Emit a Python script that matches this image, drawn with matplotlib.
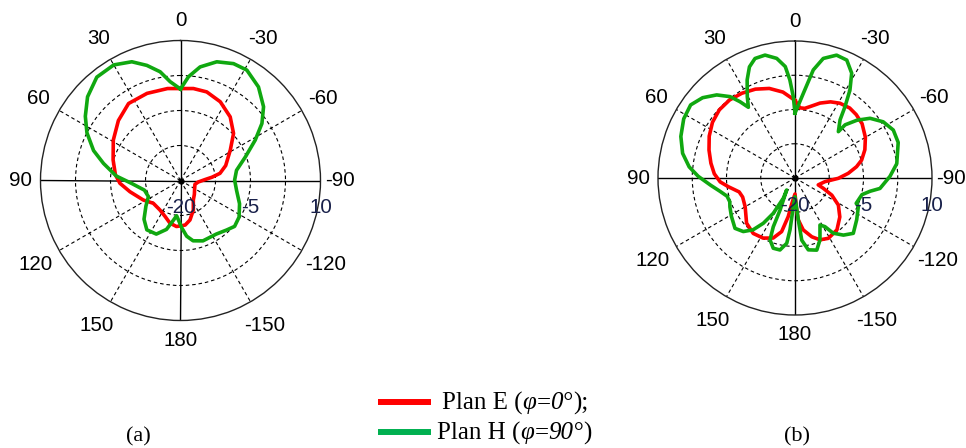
import numpy as np
import matplotlib
matplotlib.use("Agg")
import matplotlib.pyplot as plt
from matplotlib.lines import Line2D
from matplotlib.offsetbox import TextArea, HPacker, AnnotationBbox

# ---------------- data (angle in degrees, gain in dB) ----------------
# (a) E-plane
a_E_theta = [0, 8, 21, 34, 46, 59, 73, 85, 92.6, 102.5, 117.7, 130, 145, 157, 166, 175,
             186, 193.5, 203.5, 213.3, 225, 240, 255, 265, 272, 276, 280.3, 288.3,
             301.4, 311.6, 322, 333.2, 343.5, 352]
a_E_db = [-0.3, -0.1, 0.0, -0.1, -1.5, -3.2, -4.9, -6.0, -7.0, -8.9, -11.0, -12.4, -12.3,
          -11.6, -10.6, -10.1, -10.4, -11.3, -13.1, -15.0, -15.8, -16.5, -16.8, -16.2,
          -14.8, -13.2, -11.4, -9.8, -7.5, -4.8, -2.7, -1.1, -0.2, -0.1]
# (a) H-plane
a_H_theta = [0, 6, 10.6, 16.3, 22.3, 30, 39, 48, 56, 63, 71, 77.5, 86, 93.4, 105, 116.7,
             126.4, 136.7, 145.7, 155.7, 164, 169.7, 173.7, 176.8, 181.4, 186.3, 191.8,
             200.4, 213.6, 223, 229.7, 238, 248.5, 260, 270.5, 280.3, 290, 298.4, 305,
             311.6, 320.2, 329, 335.6, 343, 350.2, 355.6]
a_H_db = [-0.4, 1.3, 3.7, 5.7, 7.5, 8.6, 8.5, 6.8, 4.6, 2.5, -0.3, -3.1, -6.2, -9.5, -12.0,
          -12.3, -10.8, -8.6, -7.2, -7.4, -9.1, -11.3, -12.4, -11.6, -9.9, -8.0, -6.8,
          -6.2, -6.2, -5.5, -4.8, -5.2, -6.4, -7.8, -8.4, -7.8, -5.2, -1.8, 1.3, 3.8,
          6.1, 7.6, 7.5, 6.6, 4.7, 2.3]
# (b) E-plane
b_E_theta = [0, 8, 16, 24, 32, 40, 48, 56, 64, 72, 80, 87, 93, 97.5, 104, 110, 120, 133,
             143, 152, 160, 166, 170, 173, 180, 183, 184.5, 189, 196, 202, 209, 219, 229,
             238, 245, 250, 253.5, 263, 269.6, 275, 280.4, 285, 292, 300, 309, 316, 322,
             329, 335, 341.5, 348, 352, 356]
b_E_db = [-3.0, -1.0, 0.4, 1.3, 1.9, 2.3, 2.3, 1.8, 0.9, -0.2, -1.3, -2.3, -3.6, -5.3,
          -7.4, -7.8, -7.4, -5.5, -4.8, -5.1, -6.0, -7.9, -11.4, -14.4, -16.5, -13.0,
          -10.8, -8.5, -6.6, -5.4, -4.9, -5.4, -7.0, -8.8, -11.1, -13.4, -14.7, -13.4,
          -10.5, -8.3, -6.3, -4.9, -3.5, -2.2, -1.1, -0.7, -0.55, -0.9, -1.6, -2.7,
          -4.0, -4.6, -4.6]
# (b) H-plane
b_H_theta = [0, 1.2, 3, 5, 8.7, 13.7, 18.5, 22.3, 26, 30.4, 33.4, 35.8, 38.6, 43.3, 49, 55,
             62, 70, 77.6, 84, 89, 95, 100, 105, 110, 114, 121, 130, 136, 141, 145, 148.4,
             150, 145.3, 155, 156, 158, 162.8, 168.2, 172.8, 174.5, 176.6, 180, 184.5,
             186.2, 190.5, 196.8, 202, 208, 211.6, 214.7, 220.3, 226.5, 236, 246, 247.5,
             256, 260, 263, 271, 278, 289, 296, 302.5, 308.5, 313, 316.7, 316.9, 322.2,
             325, 328, 331.6, 336.3, 341.3, 346.7, 350.4, 354.4]
b_H_db = [-5.8, -2.2, 1.5, 4.5, 6.5, 7.7, 7.6, 6.3, 3.9, 0.65, -1.45, 0.6, 2.8, 5.0, 6.8,
          7.9, 7.6, 6.6, 5.2, 3.3, 1.2, -1.5, -3.3, -4.6, -4.8, -4.4, -3.75, -2.85, -3.7,
          -5.4, -7.9, -10.9, -14.9, -16.8, -12.3, -8.3, -5.4, -3.9, -3.9, -5.6, -8.6,
          -13.7, -15.9, -10.8, -6.3, -4.0, -3.5, -5.4, -8.35, -7.5, -5.3, -3.6, -2.4,
          -3.7, -4.8, -5.5, -4.9, -3.3, -1.25, 0.8, 2.5, 3.9, 3.95, 2.9, 1.0, -1.45,
          -4.0, -6.1, -3.9, -0.9, 2.7, 6.1, 8.2, 8.4, 6.9, 4.0, -1.4]

angle_ticks = [0, 30, 60, 90, 120, 150, 180, 210, 240, 270, 300, 330]
angle_labels = ['0', '30', '60', '90', '120', '150', '180', '-150', '-120', '-90', '-60', '-30']
r_min, r_max = -20, 10
ring_values = [-12.5, -5, 2.5]
radial_label_values = [-20, -5, 10]
radial_labels = ['-20', '-5', '10']
# legend texts: (piece, italic?)
legend_E = [('Plan E (', False), ('φ', True), ('=', False), ('0°', True), (');', False)]
legend_H = [('Plan H (', False), ('φ', True), ('=', False), ('90°', True), (')', False)]

RED = '#ff0000'
GREEN_PLOT = '#10a810'
GREEN_LEG = '#00b050'
TICK_FONT = 'Liberation Sans'
SERIF = 'Liberation Serif'
TICK_SIZE = 14.8

W, H = 966, 448
fig = plt.figure(figsize=(W / 100, H / 100), dpi=100)


def closed(theta, db):
    t = list(theta) + [theta[0] + 360]
    d = list(db) + [db[0]]
    return np.radians(t), np.array(d)


def label_radius(t):
    th = np.radians(t)
    f = 1.14
    if t % 90 != 0:
        f += 0.032
        if np.cos(th) < 0:
            f += 0.026
    return r_min + (r_max - r_min) * f


def make_polar(cx, cy, R, curves):
    ax = fig.add_axes([(cx - R) / W, (H - cy - R) / H, 2 * R / W, 2 * R / H],
                      projection='polar')
    ax.set_theta_zero_location('N')
    ax.set_theta_direction(1)
    ax.set_ylim(r_min, r_max)
    ax.set_yticks(ring_values)
    ax.set_yticklabels([])
    ax.set_xticks(np.radians([t for t in angle_ticks if t % 90 != 0]))
    ax.set_xticklabels([])
    ax.tick_params(length=0)
    ax.grid(True, color='black', linestyle=(0, (3.2, 2.6)), linewidth=0.8)
    ax.spines['polar'].set_linewidth(1.0)
    ax.spines['polar'].set_color('#222222')
    for t in (0, 90, 180, 270):
        ax.plot([np.radians(t)] * 2, [r_min, r_max], color='black', lw=1.0, zorder=2)
    ax.plot([0], [r_min], 'o', color='black', ms=3.5, zorder=3)
    for th, db, c in curves:
        tt, dd = closed(th, db)
        ax.plot(tt, dd, color=c, lw=2.6, zorder=4, solid_joinstyle='round')
    for t, lab in zip(angle_ticks, angle_labels):
        ax.text(np.radians(t), label_radius(t), lab, ha='center', va='center',
                fontsize=TICK_SIZE, family=TICK_FONT, clip_on=False)
    for v, lab in zip(radial_label_values, radial_labels):
        ax.annotate(lab, xy=(np.radians(270), v), xytext=(0, -19.5),
                    textcoords='offset points', ha='center', va='center',
                    fontsize=TICK_SIZE, family=TICK_FONT, color='#18204a',
                    annotation_clip=False, zorder=5)
    return ax


make_polar(180.5, 180.5, 140, [(a_E_theta, a_E_db, RED), (a_H_theta, a_H_db, GREEN_PLOT)])
make_polar(795, 178, 137, [(b_E_theta, b_E_db, RED), (b_H_theta, b_H_db, GREEN_PLOT)])

# legend (drawn manually, mixed upright / italic pieces)
for (x0, x1, y, tx), col, pieces in zip([(378, 431, 402, 442), (378, 431, 432, 437)],
                                        [RED, GREEN_LEG], [legend_E, legend_H]):
    fig.add_artist(Line2D([x0 / W, x1 / W], [1 - y / H] * 2, color=col, lw=4.3,
                          transform=fig.transFigure, solid_capstyle='butt'))
    boxes = [TextArea(s, textprops=dict(fontsize=18, family=SERIF,
                                        style='italic' if it else 'normal'))
             for s, it in pieces]
    pack = HPacker(children=boxes, align='baseline', pad=0, sep=0)
    ab = AnnotationBbox(pack, (tx / W, 1 - (y + 1) / H), xycoords='figure fraction',
                        box_alignment=(0, 0.5), frameon=False, pad=0)
    fig.add_artist(ab)

fig.text(138 / W, 1 - 437 / H, '(a)', ha='center', va='center', fontsize=16, family=SERIF)
fig.text(797 / W, 1 - 437 / H, '(b)', ha='center', va='center', fontsize=16, family=SERIF)

fig.savefig('out.png', dpi=100, facecolor='white')
